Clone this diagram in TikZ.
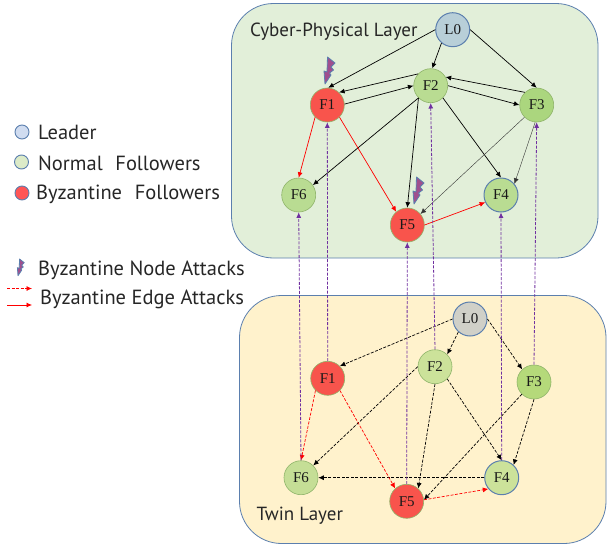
\documentclass[tikz,border=0pt]{standalone}
\usepackage{fontspec}
\setmainfont{Liberation Serif}
\newfontfamily\labelfont{PT Sans}
\usetikzlibrary{arrows.meta}
\definecolor{panelblue}{HTML}{5B7FAE}
\definecolor{paneltop}{HTML}{E2EFD9}
\definecolor{panelbot}{HTML}{FFF2CC}
\definecolor{byz}{HTML}{F8544C}
\definecolor{normalg}{HTML}{B9DC92}
\definecolor{darkg}{HTML}{ABD67E}
\definecolor{greenedge}{HTML}{8FB46A}
\definecolor{linkp}{HTML}{7030A0}
\definecolor{boltfill}{HTML}{A04F8E}
\tikzset{
  panel/.style={draw=panelblue,line width=0.8pt,rounded corners=42pt},
  fnode/.style={circle,minimum size=34pt,inner sep=0pt,font=\fontsize{15}{15}\selectfont,text=black!90},
  redn/.style={fnode,fill=byz,draw=greenedge,line width=0.6pt},
  greenn/.style={fnode,fill=normalg,draw=greenedge,line width=0.6pt},
  deepn/.style={fnode,fill=darkg,draw=greenedge,line width=0.6pt},
  bluen/.style={fnode,fill=normalg,draw=panelblue,line width=1pt},
  tipped/.style={-{Latex[length=5.5pt,width=5pt]}},
  edgeb/.style={tipped,black,line width=0.7pt},
  edgethin/.style={tipped,black!80,line width=0.4pt},
  edger/.style={tipped,red,line width=0.7pt},
  twinb/.style={edgeb,dash pattern=on 3pt off 1.5pt},
  twinr/.style={edger,dash pattern=on 3pt off 1.5pt},
  link/.style={tipped,linkp,line width=0.8pt,dash pattern=on 3pt off 1.5pt},
  lab/.style={font=\labelfont\fontsize{20.5}{20.5}\selectfont,text=black!85,anchor=west,inner sep=0pt},
  ttl/.style={font=\labelfont\fontsize{19}{19}\selectfont,text=black!85,anchor=west,inner sep=0pt},
  legdot/.style={circle,minimum size=14pt,inner sep=0pt,draw=panelblue,line width=0.9pt},
  bolt/.style={fill=boltfill,draw=panelblue,line width=0.8pt,line join=round}
}
\newcommand{\boltshape}[2][1]{%
  \draw[bolt,shift={#2},scale=#1] (0,0) -- (-1,-13) -- (2,-12) -- (2.5,-27) -- (10,-21) -- (6,-17) -- (8.5,-14) -- (4.5,-11) -- (6,-9) -- cycle;}
\begin{document}
\begin{tikzpicture}[x=1pt,y=-1pt]
\useasboundingbox (0,0) rectangle (611,544);
% panels
\draw[panel,fill=paneltop] (231.5,3.5) rectangle (598,258);
\draw[panel,fill=panelbot] (239.5,295.5) rectangle (606,543.5);
% titles
\node[ttl] (t1) at (250,31.5) {Cyber-Physical Layer};
\node[ttl] (t2) at (256.5,516) {Twin Layer};
% upper nodes
\node[fnode,draw=panelblue,line width=1pt,fill={rgb,255:red,184;green,207;blue,216}] (L0) at (452.7,29.7) {L0};
\node[greenn] (F2) at (430.7,85.7) {F2};
\node[redn] (F1) at (327.3,105) {F1};
\node[deepn] (F3) at (536.7,105) {F3};
\node[greenn] (F6) at (298.7,195) {F6};
\node[redn] (F5) at (407.3,225) {F5};
\node[bluen] (F4) at (501,195) {F4};
% lower nodes
\node[fnode,draw=panelblue,line width=1pt,fill={rgb,255:red,208;green,208;blue,200}] (tL0) at (470,319) {L0};
\node[greenn,fill={rgb,255:red,204;green,226;blue,154}] (tF2) at (435,366.7) {F2};
\node[redn] (tF1) at (327.7,378.3) {F1};
\node[deepn,fill={rgb,255:red,181;green,217;blue,122}] (tF3) at (534,382) {F3};
\node[greenn,fill={rgb,255:red,197;green,222;blue,150}] (tF6) at (301,477.7) {F6};
\node[redn] (tF5) at (406.7,501.3) {F5};
\node[bluen,fill={rgb,255:red,204;green,226;blue,154}] (tF4) at (501.7,477.7) {F4};
% upper edges
\draw[edgeb] (L0.180) -- (F1.87);
\draw[edgeb] (L0.230) -- (F2.85);
\draw[edgeb] (L0.0) -- (F3.90);
\draw[edgeb] (F1.3) -- (F2.180);
\draw[edgeb] (F2.137) -- (F1.47);
\draw[edgeb] (F2.0) -- (F3.180);
\draw[edgeb] (F3.133) -- (F2.30);
\draw[edgeb] (F2.225) -- (F6.35);
\draw[edgeb] (F2.225) -- (F5.90);
\draw[edgeb] (F2.-45) -- (F4.90);
\draw[edgethin] (F3.225) -- (F5.40);
\draw[edgethin] (F3.-95) -- (F4.40);
\draw[edger] (F1.225) -- (F6.90);
\draw[edger] (F1.-45) -- (F5.130);
\draw[edger] (F5.0) -- (F4.205);
% lower edges
\draw[twinb] (tL0.180) -- (tF1.45);
\draw[twinb] (tL0.228) -- (tF2.45);
\draw[twinb] (tL0.0) -- (tF3.133);
\draw[twinb] (tF2.180) -- (tF6.45);
\draw[twinb] (tF2.270) -- (tF5.48);
\draw[twinb] (tF2.-45) -- (tF4.90);
\draw[twinb] (tF3.225) -- (tF5.5);
\draw[twinb] (tF3.270) -- (tF4.47);
\draw[twinb] (tF4.180) -- (tF6.0);
\draw[twinr] (tF1.225) -- (tF6.90);
\draw[twinr] (tF1.-45) -- (tF5.132);
\draw[twinr] (tF5.5) -- (tF4.220);
% layer links
\draw[link] (tF6.north) -- (F6.south);
\draw[link] (tF1.north) -- (F1.south);
\draw[link] (tF5.north) -- (F5.south);
\draw[link] (tF2.north) -- (F2.south);
\draw[link] (tF4.north) -- (F4.south);
\draw[link] (tF3.north) -- (F3.south);
% bolts
\boltshape{(325,84)}
\boltshape{(414,204)}
% legend
\node[legdot,fill={rgb,255:red,208;green,220;blue,240}] (lg1) at (22,132) {};
\node[legdot,fill={rgb,255:red,220;green,235;blue,200}] (lg2) at (21.5,162) {};
\node[legdot,fill={rgb,255:red,255;green,85;blue,85}] (lg3) at (22,193) {};
\node[lab] (lt1) at (38,132.5) {Leader};
\node[lab] (lt2) at (38,163.5) {Normal\hspace{0.35em} Followers};
\node[lab] (lt3) at (36,194) {Byzantine\hspace{0.35em} Followers};
\boltshape[0.62]{(18,275.7)}
\node[lab] (lt4) at (38,270.5) {Byzantine Node Attacks};
\node[lab] (lt5) at (40,299.5) {Byzantine Edge Attacks};
\coordinate (a1) at (7,288.5);
\coordinate (a2) at (32,288.5);
\coordinate (b1) at (7,305);
\coordinate (b2) at (32,305);
\draw[twinr] (a1) -- (a2);
\draw[edger] (b1) -- (b2);
\end{tikzpicture}
\end{document}
